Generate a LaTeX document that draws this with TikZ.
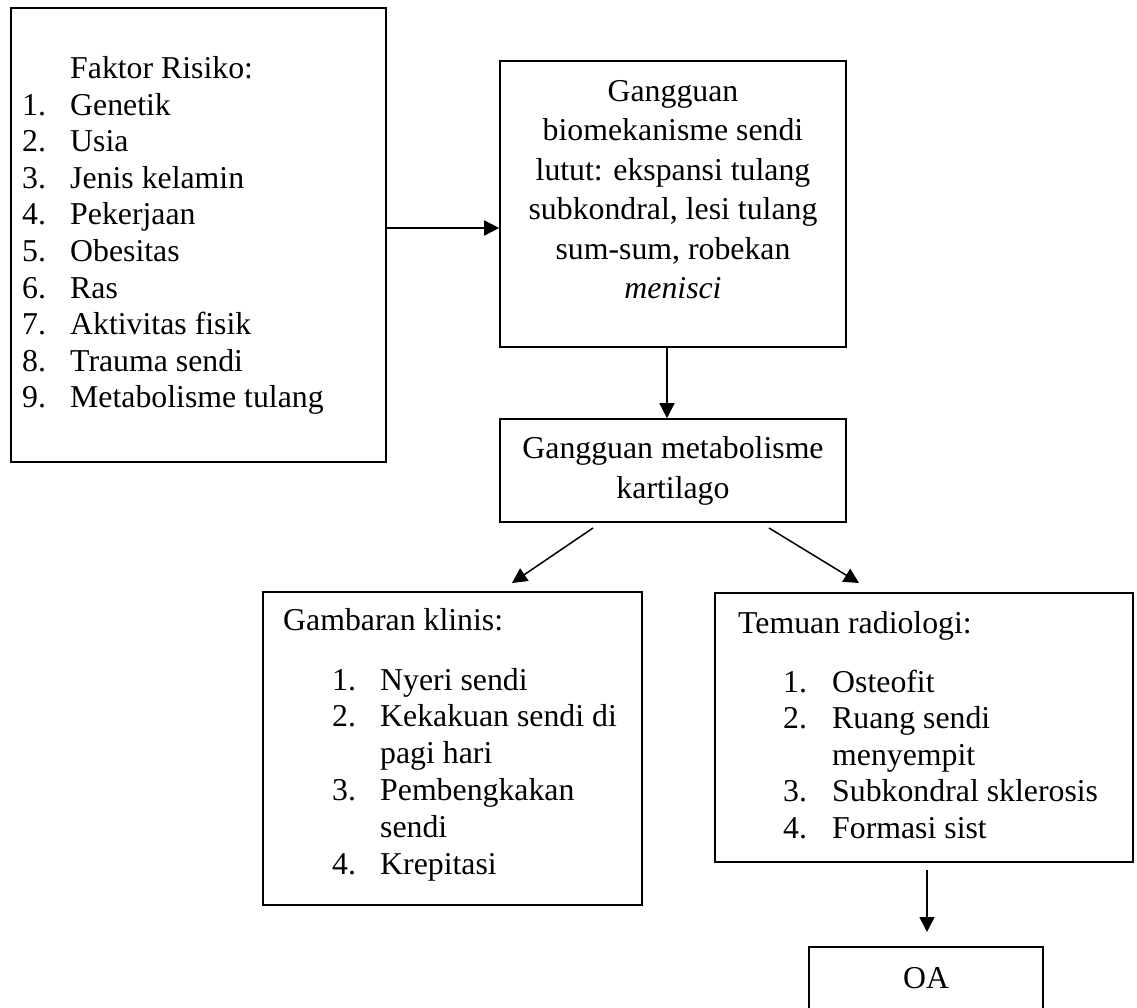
\documentclass[tikz,border=0pt]{standalone}
\usepackage{fontspec}
\setmainfont{Liberation Serif}
\usetikzlibrary{arrows.meta}
\begin{document}
\begin{tikzpicture}[x=1pt,y=-1pt,
  boxst/.style={draw, line width=1.6pt, inner sep=0pt, rectangle},
  txt/.style={inner sep=0pt, font=\fontsize{31.8pt}{36pt}\selectfont},
  conn/.style={line width=1.5pt, -{Triangle[length=15pt,width=15pt]}}]
\clip (0,0) rectangle (1137,1007);
\fill[white] (0,0) rectangle (1137,1007);

% boxes
\node[boxst, minimum width=375pt, minimum height=454pt] (b1) at (198.5,235) {};
\node[boxst, minimum width=346pt, minimum height=286pt] (b2) at (673,204) {};
\node[boxst, minimum width=346pt, minimum height=103pt] (b3) at (673,470.5) {};
\node[boxst, minimum width=379pt, minimum height=313pt] (b4) at (452.5,748.5) {};
\node[boxst, minimum width=418pt, minimum height=269pt] (b5) at (924,727.5) {};
\node[boxst, minimum width=234pt, minimum height=93pt] (b6) at (926,993.5) {};

% box 1 text
\node[txt, anchor=base west] (f0) at (70,78) {Faktor Risiko:};
\foreach \i/\t in {1/Genetik,2/Usia,3/Jenis kelamin,4/Pekerjaan,5/Obesitas,6/Ras,7/Aktivitas fisik,8/Trauma sendi,9/Metabolisme tulang}{
  \node[txt, anchor=base west] (fn\i) at (22,{115+36.6*(\i-1)}) {\i.};
  \node[txt, anchor=base west] (ft\i) at (70,{115+36.6*(\i-1)}) {\t};
}

% box 2 text
\foreach \i/\t in {1/Gangguan,2/biomekanisme sendi,3/lutut: ekspansi tulang,4/{subkondral, lesi tulang},5/{sum-sum, robekan},6/\textit{menisci}}{
  \node[txt, anchor=base] (g\i) at (673,{101+39.5*(\i-1)}) {\t};
}

% box 3 text
\node[txt, anchor=base] (k1) at (673,458) {Gangguan metabolisme};
\node[txt, anchor=base] (k2) at (673,498) {kartilago};

% box 4 text
\node[txt, anchor=base west] (c0) at (283,630) {Gambaran klinis:};
\node[txt, anchor=base west] (cn1) at (332,690) {1.};
\node[txt, anchor=base west] (ct1) at (380,690) {Nyeri sendi};
\node[txt, anchor=base west] (cn2) at (332,726.8) {2.};
\node[txt, anchor=base west] (ct2) at (380,726.8) {Kekakuan sendi di};
\node[txt, anchor=base west] (ct2b) at (380,763.6) {pagi hari};
\node[txt, anchor=base west] (cn3) at (332,800.4) {3.};
\node[txt, anchor=base west] (ct3) at (380,800.4) {Pembengkakan};
\node[txt, anchor=base west] (ct3b) at (380,837.2) {sendi};
\node[txt, anchor=base west] (cn4) at (332,874) {4.};
\node[txt, anchor=base west] (ct4) at (380,874) {Krepitasi};

% box 5 text
\node[txt, anchor=base west] (r0) at (738,633) {Temuan radiologi:};
\node[txt, anchor=base west] (rn1) at (783,692) {1.};
\node[txt, anchor=base west] (rt1) at (832,692) {Osteofit};
\node[txt, anchor=base west] (rn2) at (783,728.5) {2.};
\node[txt, anchor=base west] (rt2) at (832,728.5) {Ruang sendi};
\node[txt, anchor=base west] (rt2b) at (832,765) {menyempit};
\node[txt, anchor=base west] (rn3) at (783,801.5) {3.};
\node[txt, anchor=base west] (rt3) at (832,801.5) {Subkondral sklerosis};
\node[txt, anchor=base west] (rn4) at (783,838) {4.};
\node[txt, anchor=base west] (rt4) at (832,838) {Formasi sist};

% OA text
\node[txt, anchor=base] (oa) at (926,988) {OA};

% connectors
\coordinate (d1s) at (593,528);
\coordinate (d1e) at (512,583);
\coordinate (d2s) at (769,528);
\coordinate (d2e) at (859,583);
\coordinate (d3s) at (927,870);
\coordinate (d3e) at (927,932);
\draw[conn] (b1.east |- 0,228) -- (b2.west |- 0,228);
\draw[conn] (b2.south -| 667,0) -- (b3.north -| 667,0);
\draw[conn] (d1s) -- (d1e);
\draw[conn] (d2s) -- (d2e);
\draw[conn] (d3s) -- (d3e);
\end{tikzpicture}
\end{document}
